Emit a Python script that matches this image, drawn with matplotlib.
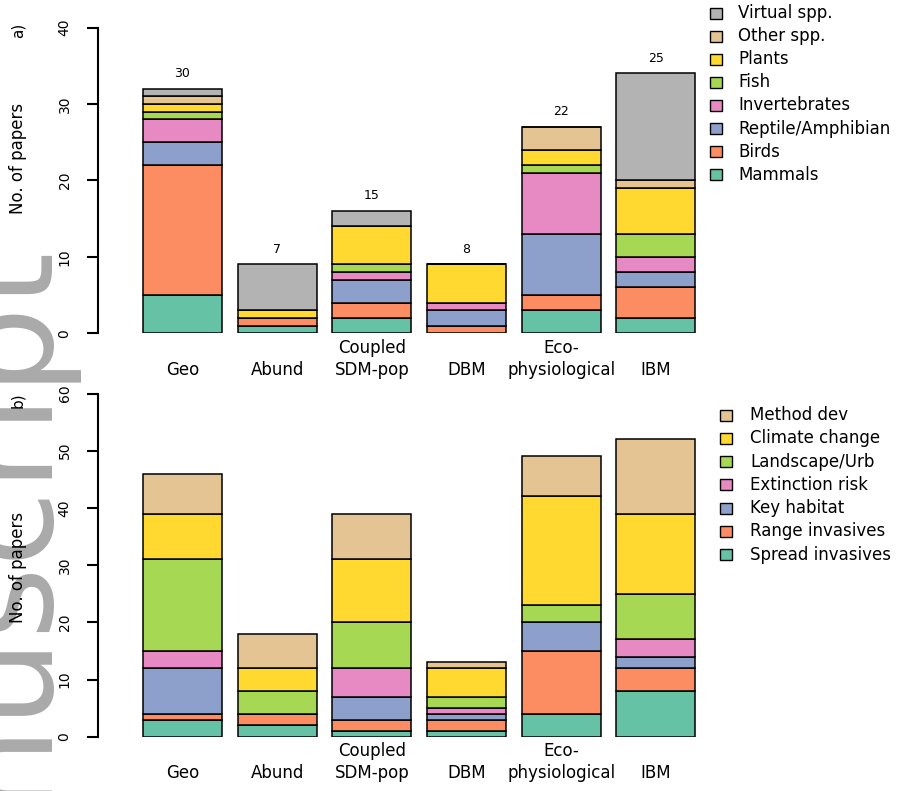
import numpy as np
import matplotlib.pyplot as plt
from matplotlib.patches import Rectangle

W, H = 899, 791

models = ['Geo', 'Abund', 'Coupled\nSDM-pop', 'DBM', 'Eco-\nphysiological', 'IBM']
n_papers = ['30', '7', '15', '8', '22', '25']

# panel a: taxa (bottom -> top of stack)
taxa = ['Mammals', 'Birds', 'Reptile/Amphibian', 'Invertebrates', 'Fish', 'Plants', 'Other spp.', 'Virtual spp.']
mammals = [5, 1, 2, 0, 3, 2]
birds = [17, 1, 2, 1, 2, 4]
reptiles = [3, 0, 3, 2, 8, 2]
inverts = [3, 0, 1, 1, 8, 2]
fish = [1, 0, 1, 0, 1, 3]
plants = [1, 1, 5, 5, 2, 6]
other_spp = [1, 0, 0, 0, 3, 1]
virtual_spp = [1, 6, 2, 0, 0, 14]

# panel b: purpose (bottom -> top of stack)
purposes = ['Spread invasives', 'Range invasives', 'Key habitat', 'Extinction risk',
            'Landscape/Urb', 'Climate change', 'Method dev']
spread_inv = [3, 2, 1, 1, 4, 8]
range_inv = [1, 2, 2, 2, 11, 4]
key_habitat = [8, 0, 4, 1, 5, 2]
ext_risk = [3, 0, 5, 1, 0, 3]
landscape = [16, 4, 8, 2, 3, 8]
climate = [8, 4, 11, 5, 19, 14]
method_dev = [7, 6, 8, 1, 7, 13]

set2 = ['#66C2A5', '#FC8D62', '#8DA0CB', '#E78AC3', '#A6D854', '#FFD92F', '#E5C494', '#B3B3B3']

fig = plt.figure(figsize=(W / 100, H / 100), dpi=100)

def fx(px):
    return px / W

def fy(py):
    return 1 - py / H

# watermark
fig.text(fx(40), fy(238), 'manuscript', rotation=90, rotation_mode='anchor',
         ha='right', va='baseline', fontsize=100, color='#aaaaaa', zorder=-5)

xpos = 0.7 + 1.2 * np.arange(len(models))

def stacked(ax, series, colors, ymax):
    bottom = np.zeros(len(models))
    for vals, c in zip(series, colors):
        ax.bar(xpos, vals, width=1.0, bottom=bottom, color=c,
               edgecolor='black', linewidth=1.1)
        bottom += np.array(vals)
    ax.set_xlim(-0.371, 7.26)
    ax.set_ylim(0, ymax)
    for s in ['top', 'right', 'bottom']:
        ax.spines[s].set_visible(False)
    ax.spines['left'].set_bounds(0, ymax)
    ax.spines['left'].set_linewidth(1.5)
    ax.set_xticks([])
    ax.set_yticks(np.arange(0, ymax + 1, 10))
    ax.tick_params(axis='y', length=8, width=1.5, pad=11, labelsize=10)
    for lab in ax.get_yticklabels():
        lab.set_rotation(90)
        lab.set_va('center')
    for x, m in zip(xpos, models):
        lines = m.split('\n')
        for k, line in enumerate(reversed(lines)):
            ax.annotate(line, xy=(x, 0), xycoords=('data', 'axes fraction'),
                        xytext=(0, -26.4 + 15.8 * k), textcoords='offset points',
                        ha='center', va='center', fontsize=12, annotation_clip=False)
    return bottom

ax1 = fig.add_axes([fx(98), fy(333.3), fx(700) - fx(98), fy(27.5) - fy(333.3)])
tot1 = stacked(ax1, [mammals, birds, reptiles, inverts, fish, plants, other_spp, virtual_spp],
               set2, 40)
for x, t, lab in zip(xpos, tot1, n_papers):
    ax1.annotate(lab, xy=(x, t), xytext=(0, 11), textcoords='offset points',
                 ha='center', va='center', fontsize=9, annotation_clip=False)

ax2 = fig.add_axes([fx(98), fy(736.7), fx(700) - fx(98), fy(393.5) - fy(736.7)])
stacked(ax2, [spread_inv, range_inv, key_habitat, ext_risk, landscape, climate, method_dev],
        set2[:7], 60)

# y labels and panel letters
fig.text(fx(18), fy(158), 'No. of papers', rotation=90, ha='center', va='center', fontsize=12)
fig.text(fx(18), fy(567), 'No. of papers', rotation=90, ha='center', va='center', fontsize=12)
fig.text(fx(18), fy(30), 'a)', rotation=90, ha='center', va='center', fontsize=11)
fig.text(fx(18), fy(400), 'b)', rotation=90, ha='center', va='center', fontsize=11)

# legends
def legend(labels, colors, sq_x, txt_x, y0, dy):
    for i, (lab, c) in enumerate(zip(labels, colors)):
        yc = y0 + i * dy
        fig.patches.append(Rectangle((fx(sq_x - 6), fy(yc + 5.5)), fx(12), 11 / H,
                                     facecolor=c, edgecolor='black', linewidth=1.0,
                                     transform=fig.transFigure, figure=fig))
        fig.text(fx(txt_x), fy(yc), lab, ha='left', va='center', fontsize=12)

legend(taxa[::-1], set2[::-1], 716, 738, 13, 23.1)
legend(purposes[::-1], set2[:7][::-1], 726, 750, 415, 23.3)

fig.savefig('out.png', dpi=100)
